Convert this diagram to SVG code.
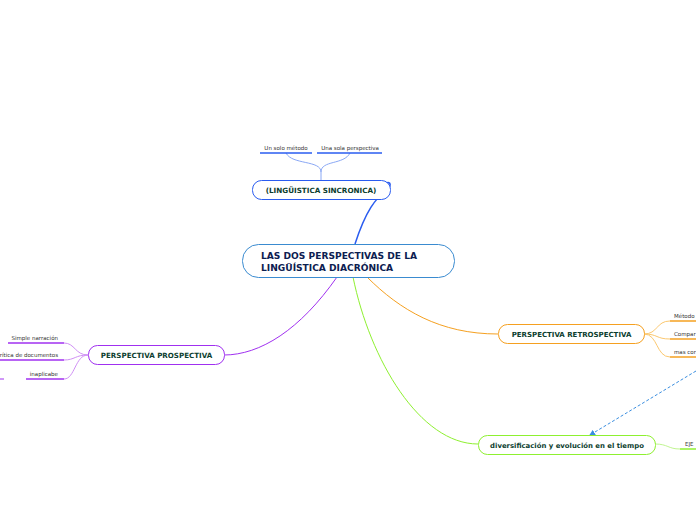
<svg xmlns="http://www.w3.org/2000/svg" width="696" height="520" viewBox="0 0 696 520">
<defs>
<style>
.node{fill:#fff;stroke-width:1}
.t{font-family:"DejaVu Sans",Verdana,sans-serif;font-weight:bold;fill:#0b3d2e}
.s{font-family:"DejaVu Sans",Verdana,sans-serif;font-size:5.5px;fill:#333}
.c{fill:none}
</style>
<marker id="ah" markerWidth="6" markerHeight="6" refX="5" refY="3" orient="auto" markerUnits="userSpaceOnUse">
<path d="M0,0 L6,3 L0,6 z" fill="#3a8ee0"/>
</marker>
</defs>
<rect width="696" height="520" fill="#fff"/>
<g id="connectors">
<path class="c" d="M355,244 C366,210 376,198 386,191 C392,186 391,181 386,183" stroke="#2a5cf0" stroke-width="1.5"/>
<path class="c" d="M286,153 C292,165 321,160 321,172 L321,180 M350,153 C344,165 321,160 321,172" stroke="#8aa8f5" stroke-width="1"/>
<path class="c" d="M337,277 C300,330 260,355 224,355" stroke="#a030f0" stroke-width="1"/>
<path class="c" d="M88,355 C75,355 75,343 64,343 M88,355 C75,355 75,360 64,360 M88,355 C75,355 75,379 64,379" stroke="#d090f5" stroke-width="1"/>
<path class="c" d="M367,277 C400,310 440,334 498,334" stroke="#f5a020" stroke-width="1"/>
<path class="c" d="M644,334 C658,334 656,321 670,321 M644,334 C658,334 656,339 670,339 M644,334 C658,334 656,357 670,357" stroke="#fbc870" stroke-width="1"/>
<path class="c" d="M353,277 C370,360 420,444 478,444" stroke="#8ef030" stroke-width="1"/>
<path class="c" d="M655,444 C668,444 668,449 680,449" stroke="#c0f590" stroke-width="1"/>
<path class="c" d="M696,371 L590,435" stroke="#3a8ee0" stroke-width="1" stroke-dasharray="3,2" marker-end="url(#ah)"/>
</g>
<g id="central">
<rect class="node" x="242.5" y="244.5" width="212" height="33" rx="16" stroke="#3a8bd0"/>
<text class="t" x="261" y="259" font-size="9.1" style="fill:#0c2050">LAS DOS PERSPECTIVAS DE LA</text>
<text class="t" x="261" y="270.5" font-size="9.1" style="fill:#0c2050">LINGÜÍSTICA DIACRÓNICA</text>
</g>
<g id="sincronica">
<rect class="node" x="252.5" y="180.5" width="138" height="19" rx="9" stroke="#2a5cf0"/>
<text class="t" x="321" y="192.5" font-size="7.2" text-anchor="middle">(LINGÜISTICA SINCRONICA)</text>
</g>
<g id="sub-un-solo">
<text class="s" x="286" y="149.5" text-anchor="middle">Un solo método</text>
<line x1="260" y1="153" x2="312" y2="153" stroke="#2a5cf0" stroke-width="1.5"/>
</g>
<g id="sub-una-sola">
<text class="s" x="350" y="149.5" text-anchor="middle">Una sola perspectiva</text>
<line x1="317" y1="153" x2="382" y2="153" stroke="#2a5cf0" stroke-width="1.5"/>
</g>
<g id="prospectiva">
<rect class="node" x="88.5" y="345.5" width="136" height="19" rx="9" stroke="#a030f0"/>
<text class="t" x="156.5" y="358" font-size="7.1" text-anchor="middle">PERSPECTIVA PROSPECTIVA</text>
</g>
<g id="sub-simple">
<text class="s" x="58" y="339.5" text-anchor="end">Simple narración</text>
<line x1="8" y1="343" x2="64" y2="343" stroke="#a030f0" stroke-width="1.5"/>
</g>
<g id="sub-critica">
<text class="s" x="58" y="356.5" text-anchor="end">crítica de documentos</text>
<line x1="0" y1="360" x2="64" y2="360" stroke="#a030f0" stroke-width="1.5"/>
</g>
<g id="sub-inaplicabe">
<text class="s" x="58" y="375.5" text-anchor="end">inaplicabe</text>
<line x1="26" y1="379" x2="64" y2="379" stroke="#a030f0" stroke-width="1.5"/>
<line x1="0" y1="379" x2="4" y2="379" stroke="#a030f0" stroke-width="1"/>
</g>
<g id="retrospectiva">
<rect class="node" x="498.5" y="324.5" width="146" height="19" rx="9" stroke="#f5a020"/>
<text class="t" x="571.5" y="337" font-size="7" text-anchor="middle">PERSPECTIVA RETROSPECTIVA</text>
</g>
<g id="sub-metodo">
<text class="s" x="674" y="317.5">Método</text>
<line x1="670" y1="321" x2="696" y2="321" stroke="#f5a020" stroke-width="1.5"/>
</g>
<g id="sub-compar">
<text class="s" x="674" y="335.5">Compar</text>
<line x1="670" y1="339" x2="696" y2="339" stroke="#f5a020" stroke-width="1.5"/>
</g>
<g id="sub-mas">
<text class="s" x="674" y="353.5">mas cor</text>
<line x1="670" y1="357" x2="696" y2="357" stroke="#f5a020" stroke-width="1.5"/>
</g>
<g id="diversificacion">
<rect class="node" x="478.5" y="435.5" width="177" height="19" rx="9" stroke="#8ef030"/>
<text class="t" x="567" y="448" font-size="6.9" text-anchor="middle">diversificación y evolución en el tiempo</text>
</g>
<g id="sub-eje">
<text class="s" x="685" y="445.5">EJE</text>
<line x1="680" y1="449" x2="696" y2="449" stroke="#8ef030" stroke-width="1.5"/>
</g>
</svg>
